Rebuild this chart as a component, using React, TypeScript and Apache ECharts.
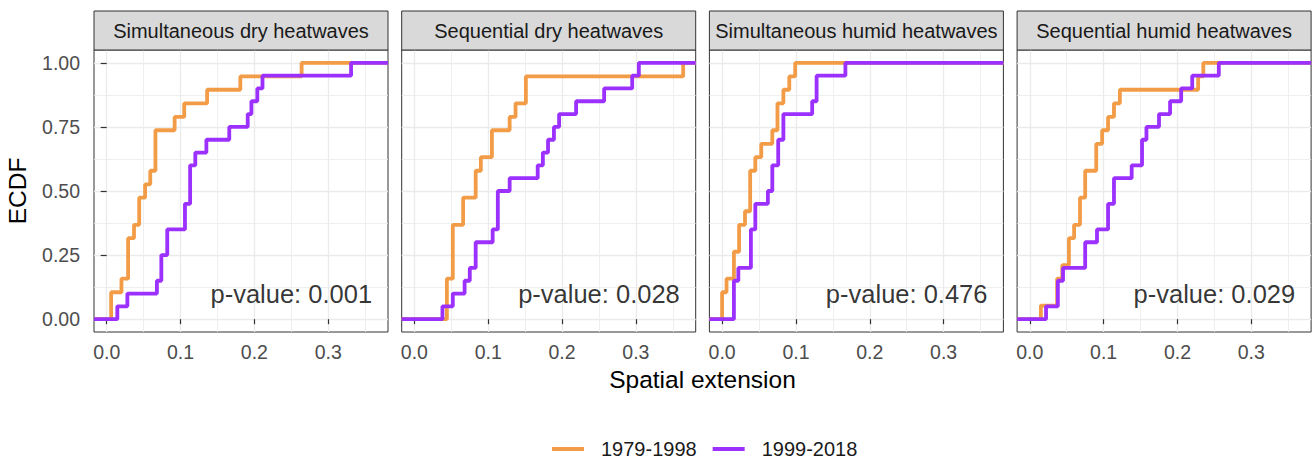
import React, { useEffect, useRef } from "react";
import * as echarts from "echarts";

// ---------- data ----------
const PANEL_TITLES = [
  "Simultaneous dry heatwaves",
  "Sequential dry heatwaves",
  "Simultaneous humid heatwaves",
  "Sequential humid heatwaves",
];
const P_VALUES = ["0.001", "0.028", "0.476", "0.029"];
const PERIODS = ["1979-1998", "1999-2018"];
const X_TICKS = [0, 0.1, 0.2, 0.3];
const X_MINOR = [0.05, 0.15, 0.25, 0.35];
const Y_TICKS = [0, 0.25, 0.5, 0.75, 1];
const Y_MINOR = [0.125, 0.375, 0.625, 0.875];
const P_LABEL_POS = [0.25, 0.1];

// Simultaneous dry
const SIM_DRY_EARLY_X = [0.006, 0.02, 0.029, 0.037, 0.044, 0.052, 0.059, 0.066, 0.092, 0.105, 0.136, 0.181, 0.264];
const SIM_DRY_EARLY_Y = [0.105, 0.158, 0.316, 0.368, 0.474, 0.526, 0.579, 0.737, 0.789, 0.842, 0.895, 0.947, 1.0];
const SIM_DRY_LATE_X = [0.0144, 0.028, 0.068, 0.074, 0.082, 0.106, 0.113, 0.12, 0.135, 0.166, 0.191, 0.196, 0.204, 0.211, 0.331];
const SIM_DRY_LATE_Y = [0.05, 0.1, 0.15, 0.25, 0.35, 0.45, 0.6, 0.65, 0.7, 0.75, 0.8, 0.85, 0.9, 0.95, 1.0];

// Sequential dry
const SEQ_DRY_EARLY_X = [0.044, 0.052, 0.066, 0.083, 0.09, 0.105, 0.129, 0.137, 0.151, 0.364];
const SEQ_DRY_EARLY_Y = [0.158, 0.368, 0.474, 0.579, 0.632, 0.737, 0.789, 0.842, 0.947, 1.0];
const SEQ_DRY_LATE_X = [0.038, 0.052, 0.068, 0.075, 0.083, 0.106, 0.113, 0.129, 0.167, 0.174, 0.181, 0.189, 0.196, 0.219, 0.257, 0.295, 0.304];
const SEQ_DRY_LATE_Y = [0.05, 0.1, 0.15, 0.2, 0.3, 0.35, 0.5, 0.55, 0.6, 0.65, 0.7, 0.75, 0.8, 0.85, 0.9, 0.95, 1.0];

// Simultaneous humid
const SIM_HUM_EARLY_X = [0.0, 0.006, 0.016, 0.023, 0.031, 0.038, 0.045, 0.053, 0.068, 0.075, 0.083, 0.091, 0.099];
const SIM_HUM_EARLY_Y = [0.105, 0.158, 0.263, 0.368, 0.421, 0.579, 0.632, 0.684, 0.737, 0.842, 0.895, 0.947, 1.0];
const SIM_HUM_LATE_X = [0.016, 0.022, 0.039, 0.045, 0.062, 0.068, 0.076, 0.083, 0.122, 0.128, 0.167];
const SIM_HUM_LATE_Y = [0.15, 0.2, 0.35, 0.45, 0.5, 0.6, 0.7, 0.8, 0.85, 0.95, 1.0];

// Sequential humid
const SEQ_HUM_EARLY_X = [0.015, 0.037, 0.044, 0.053, 0.06, 0.068, 0.075, 0.09, 0.098, 0.106, 0.114, 0.122, 0.228, 0.235];
const SEQ_HUM_EARLY_Y = [0.053, 0.158, 0.211, 0.316, 0.368, 0.474, 0.579, 0.684, 0.737, 0.789, 0.842, 0.895, 0.947, 1.0];
const SEQ_HUM_LATE_X = [0.022, 0.038, 0.045, 0.075, 0.091, 0.106, 0.114, 0.138, 0.152, 0.158, 0.175, 0.19, 0.205, 0.22, 0.256];
const SEQ_HUM_LATE_Y = [0.05, 0.15, 0.2, 0.3, 0.35, 0.45, 0.55, 0.6, 0.7, 0.75, 0.8, 0.85, 0.9, 0.95, 1.0];

const PANELS_X = [
  [SIM_DRY_EARLY_X, SIM_DRY_LATE_X],
  [SEQ_DRY_EARLY_X, SEQ_DRY_LATE_X],
  [SIM_HUM_EARLY_X, SIM_HUM_LATE_X],
  [SEQ_HUM_EARLY_X, SEQ_HUM_LATE_X],
];
const PANELS_Y = [
  [SIM_DRY_EARLY_Y, SIM_DRY_LATE_Y],
  [SEQ_DRY_EARLY_Y, SEQ_DRY_LATE_Y],
  [SIM_HUM_EARLY_Y, SIM_HUM_LATE_Y],
  [SEQ_HUM_EARLY_Y, SEQ_HUM_LATE_Y],
];

// ---------- layout / style ----------
const W = 1315;
const H = 461;
const X_MIN = -0.0172;
const X_MAX = 0.381;
const Y_MIN = -0.05;
const Y_MAX = 1.05;
const PANEL_LEFT0 = 94;
const PANEL_STEP = 307.7;
const PANEL_W = 294;
const GRID_TOP = 50;
const GRID_H = 282;
const STRIP_TOP = 11;
const STRIP_H = 39;
const COLORS = ["#F39C48", "#9B30FF"];
const FONT = "'Liberation Sans', Arial, Helvetica, sans-serif";

export default function App() {
  const ref = useRef<HTMLDivElement>(null);

  useEffect(() => {
    document.body.style.margin = "0";
    if (!ref.current) return;
    const chart = echarts.init(ref.current, null, { renderer: "svg" });

    const grids: any[] = [];
    const xAxes: any[] = [];
    const yAxes: any[] = [];
    const series: any[] = [];
    const graphics: any[] = [];

    for (let i = 0; i < 4; i++) {
      const left = PANEL_LEFT0 + i * PANEL_STEP;
      grids.push({
        left,
        top: GRID_TOP,
        width: PANEL_W,
        height: GRID_H,
        show: true,
        backgroundColor: "#ffffff",
        borderColor: "#333333",
        borderWidth: 1,
        containLabel: false,
      });
    }
    // primary axes (ticks, labels, major grid)
    for (let i = 0; i < 4; i++) {
      xAxes.push({
        type: "value",
        gridIndex: i,
        min: X_MIN,
        max: X_MAX,
        axisLine: { show: false },
        axisTick: {
          show: true,
          length: 5,
          lineStyle: { color: "#333333", width: 1.2 },
          customValues: X_TICKS,
        },
        axisLabel: {
          show: true,
          margin: 10,
          fontSize: 19.5,
          color: "#4d4d4d",
          fontFamily: FONT,
          customValues: X_TICKS,
          formatter: (v: number) => v.toFixed(1),
        },
        splitLine: {
          show: true,
          lineStyle: { color: "#ebebeb", width: 1.3 },
          customValues: X_TICKS,
        },
      });
      yAxes.push({
        type: "value",
        gridIndex: i,
        min: Y_MIN,
        max: Y_MAX,
        axisLine: { show: false },
        axisTick: {
          show: i === 0,
          length: 6,
          lineStyle: { color: "#333333", width: 1.2 },
          customValues: Y_TICKS,
        },
        axisLabel: {
          show: i === 0,
          margin: 14,
          fontSize: 19.5,
          color: "#4d4d4d",
          fontFamily: FONT,
          customValues: Y_TICKS,
          formatter: (v: number) => v.toFixed(2),
        },
        splitLine: {
          show: true,
          lineStyle: { color: "#ebebeb", width: 1.3 },
          customValues: Y_TICKS,
        },
      });
    }
    // secondary axes (minor grid only)
    for (let i = 0; i < 4; i++) {
      xAxes.push({
        type: "value",
        gridIndex: i,
        min: X_MIN,
        max: X_MAX,
        axisLine: { show: false },
        axisTick: { show: false, customValues: X_MINOR },
        axisLabel: { show: false, customValues: X_MINOR },
        splitLine: {
          show: true,
          lineStyle: { color: "#ebebeb", width: 0.8 },
          customValues: X_MINOR,
        },
      });
      yAxes.push({
        type: "value",
        gridIndex: i,
        min: Y_MIN,
        max: Y_MAX,
        axisLine: { show: false },
        axisTick: { show: false, customValues: Y_MINOR },
        axisLabel: { show: false, customValues: Y_MINOR },
        splitLine: {
          show: true,
          lineStyle: { color: "#ebebeb", width: 0.8 },
          customValues: Y_MINOR,
        },
      });
    }

    for (let i = 0; i < 4; i++) {
      for (let g = 0; g < 2; g++) {
        const xs = PANELS_X[i][g];
        const ys = PANELS_Y[i][g];
        const data: number[][] = [[X_MIN, 0]];
        xs.forEach((x, k) => data.push([x, ys[k]]));
        data.push([X_MAX, 1]);
        series.push({
          type: "line",
          name: PERIODS[g],
          xAxisIndex: i,
          yAxisIndex: i,
          step: "end",
          showSymbol: false,
          symbol: "none",
          data,
          z: 3 + g,
          lineStyle: { color: COLORS[g], width: 3.8 },
          itemStyle: { color: COLORS[g] },
          emphasis: { disabled: true },
        });
      }
      series.push({
        type: "scatter",
        name: "pvalue" + i,
        xAxisIndex: i,
        yAxisIndex: i,
        symbolSize: 1,
        itemStyle: { color: "rgba(0,0,0,0)" },
        data: [P_LABEL_POS],
        z: 6,
        label: {
          show: true,
          position: "inside",
          formatter: "p-value: " + P_VALUES[i],
          fontSize: 25.5,
          color: "#000000",
          fontFamily: FONT,
        },
        emphasis: { disabled: true },
      });

      const left = PANEL_LEFT0 + i * PANEL_STEP;
      graphics.push({
        type: "rect",
        shape: { x: left, y: STRIP_TOP, width: PANEL_W, height: STRIP_H },
        style: { fill: "#d9d9d9", stroke: "#333333", lineWidth: 1 },
        z: 10,
      });
      graphics.push({
        type: "text",
        x: left + PANEL_W / 2,
        y: STRIP_TOP + STRIP_H / 2,
        style: {
          text: PANEL_TITLES[i],
          fontSize: 20,
          fill: "#1a1a1a",
          fontFamily: FONT,
          align: "center",
          verticalAlign: "middle",
          textAlign: "center",
          textVerticalAlign: "middle",
        },
        z: 11,
      });
    }

    graphics.push({
      type: "text",
      x: 17.5,
      y: 191,
      rotation: Math.PI / 2,
      style: {
        text: "ECDF",
        fontSize: 24.5,
        fill: "#000000",
        fontFamily: FONT,
        align: "center",
        verticalAlign: "middle",
        textAlign: "center",
        textVerticalAlign: "middle",
      },
    });
    graphics.push({
      type: "text",
      x: 702.5,
      y: 379,
      style: {
        text: "Spatial extension",
        fontSize: 24.5,
        fill: "#000000",
        fontFamily: FONT,
        align: "center",
        verticalAlign: "middle",
        textAlign: "center",
        textVerticalAlign: "middle",
      },
    });

    chart.setOption({
      animation: false,
      backgroundColor: "#ffffff",
      textStyle: { fontFamily: FONT },
      grid: grids,
      xAxis: xAxes,
      yAxis: yAxes,
      series,
      legend: {
        data: PERIODS,
        left: 552,
        top: 439,
        icon: "rect",
        itemWidth: 32,
        itemHeight: 4,
        itemGap: 16,
        selectedMode: false,
        padding: 0,
        textStyle: {
          fontSize: 20,
          color: "#1a1a1a",
          fontFamily: FONT,
          padding: [0, 0, 0, 12],
        },
      },
      graphic: graphics,
    });

    return () => chart.dispose();
  }, []);

  return <div ref={ref} style={{ width: W, height: H }} />;
}
